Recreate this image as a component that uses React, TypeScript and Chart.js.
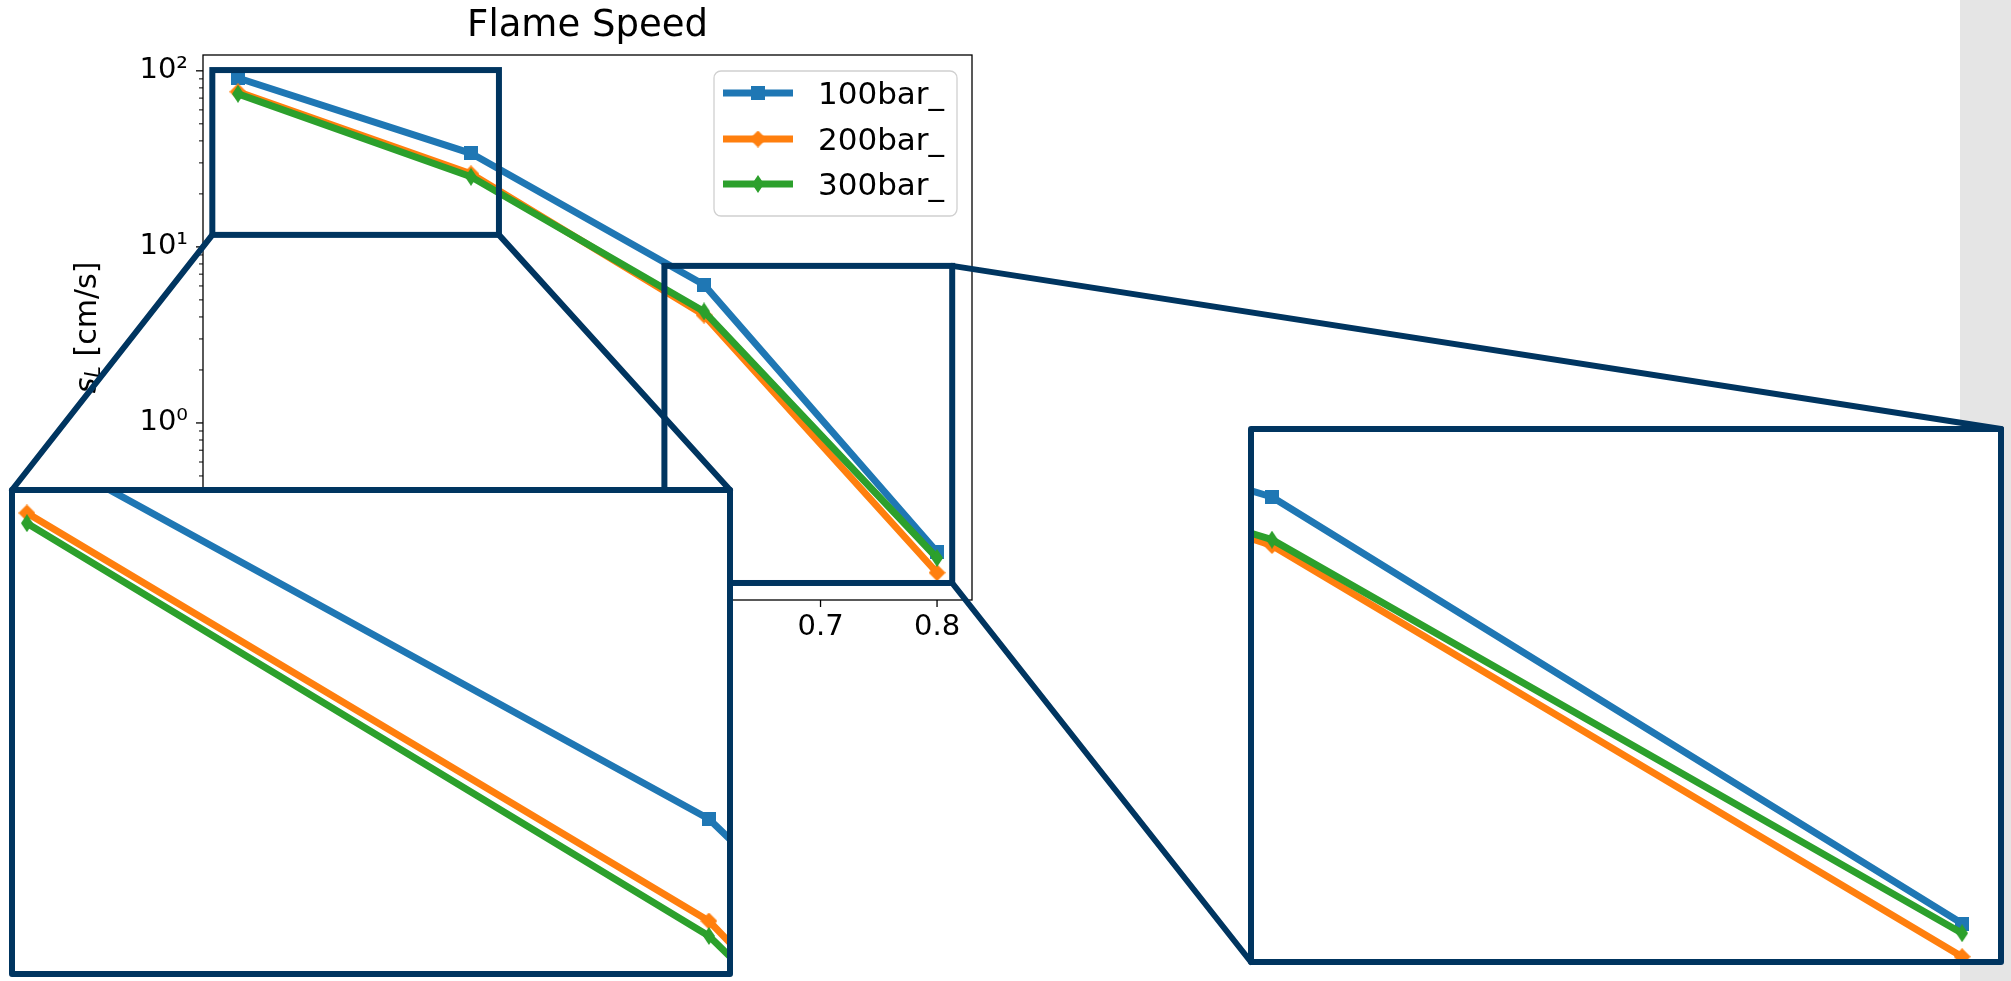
import React, { useEffect, useRef } from 'react';
import { Chart, registerables } from 'chart.js';

Chart.register(...registerables);

const PAGE_W = 2011;
const PAGE_H = 981;
const FONT = '"DejaVu Sans", "Liberation Sans", sans-serif';

// Laminar flame speed s_L [cm/s] against equivalence ratio, three pressures
const equivalenceRatio = [0.2, 0.4, 0.6, 0.8];
const flameSpeed100bar = [91, 34, 6.1, 0.185];
const flameSpeed200bar = [76, 26, 4.1, 0.141];
const flameSpeed300bar = [74, 25, 4.3, 0.171];
const seriesLabels = ['100bar_', '200bar_', '300bar_'];
const seriesColors = ['#1f77b4', '#ff7f0e', '#2ca02c'];
const seriesMarkers = ['square', 'diamond', 'thinDiamond'];

const xTickValues = [0.2, 0.3, 0.4, 0.5, 0.6, 0.7, 0.8];
const yDecadeValues = [0.1, 1, 10, 100];
const yDecadeLabels = ['10⁻¹', '10⁰', '10¹', '10²'];

// axis limits of the main axes and of the two zoomed views
const mainXRange = [0.17, 0.83];
const mainYRange = [0.0987, 123];
const zoomAXRange = [0.1965, 0.4053];
const zoomAYRange = [22.8, 80.1];
const zoomBXRange = [0.5948, 0.8104];
const zoomBYRange = [0.1384, 10.39];

// regions of the main axes that are magnified (data coordinates)
const regionAX = [0.178, 0.424];
const regionAY = [11.7, 101];
const regionBX = [0.566, 0.813];
const regionBY = [0.1233, 7.8];

// frames that hold the magnified views (page pixels)
const frameA = { left: 9, top: 487, width: 724, height: 490 };
const frameB = { left: 1248, top: 426, width: 756, height: 539 };
const FRAME_BORDER = 6;
const NAVY = '#003560';

// main plot area placement
const AREA_LEFT = 203;
const AREA_RIGHT = 972;
const AREA_BOTTOM = 600;
const X_AXIS_H = 60;
const LINE_W = 7;

function makeMarker(kind: string, color: string): HTMLCanvasElement {
  const c = document.createElement('canvas');
  let w = 14;
  let h = 14;
  if (kind === 'diamond') { w = 17; h = 17; }
  if (kind === 'thinDiamond') { w = 12; h = 18; }
  c.width = w;
  c.height = h;
  const g = c.getContext('2d')!;
  g.fillStyle = color;
  g.beginPath();
  if (kind === 'square') {
    g.rect(0, 0, w, h);
  } else {
    g.moveTo(w / 2, 0);
    g.lineTo(w, h / 2);
    g.lineTo(w / 2, h);
    g.lineTo(0, h / 2);
    g.closePath();
  }
  g.fill();
  return c;
}

function buildDatasets(markers: HTMLCanvasElement[]) {
  const series = [flameSpeed100bar, flameSpeed200bar, flameSpeed300bar];
  return series.map((vals, i) => ({
    label: seriesLabels[i],
    data: equivalenceRatio.map((x, j) => ({ x, y: vals[j] })),
    borderColor: seriesColors[i],
    backgroundColor: seriesColors[i],
    borderWidth: LINE_W,
    borderJoinStyle: 'round' as const,
    pointStyle: markers[i],
    pointRadius: 8,
    pointHoverRadius: 8,
    tension: 0,
    order: 3 - i,
  }));
}

function buildLogTicks(min: number, max: number) {
  const ticks: { value: number; major: boolean }[] = [];
  for (let e = -2; e <= 3; e++) {
    for (let m = 1; m <= 9; m++) {
      const v = m * Math.pow(10, e);
      if (v >= min && v <= max) ticks.push({ value: v, major: m === 1 });
    }
  }
  return ticks;
}

function decadeLabel(value: number) {
  const k = yDecadeValues.findIndex((d) => Math.abs(d - value) / d < 1e-6);
  return k >= 0 ? yDecadeLabels[k] : '';
}

const overlayPlugin = {
  id: 'flameOverlay',
  afterDraw(chart: any) {
    const { ctx, chartArea: ca } = chart;
    const xs = chart.scales.x;
    const ys = chart.scales.y;
    ctx.save();

    // tick marks
    ctx.strokeStyle = '#000';
    for (const t of xs.ticks) {
      const px = xs.getPixelForValue(t.value);
      ctx.lineWidth = 1.3;
      ctx.beginPath();
      ctx.moveTo(px, ca.bottom);
      ctx.lineTo(px, ca.bottom + 7);
      ctx.stroke();
    }
    for (const t of ys.ticks) {
      const py = ys.getPixelForValue(t.value);
      const len = t.major ? 7 : 4;
      ctx.lineWidth = t.major ? 1.3 : 1;
      ctx.beginPath();
      ctx.moveTo(ca.left - len, py);
      ctx.lineTo(ca.left, py);
      ctx.stroke();
    }

    // axes frame
    ctx.lineWidth = 1.3;
    ctx.strokeStyle = '#000';
    ctx.strokeRect(ca.left, ca.top, ca.right - ca.left, ca.bottom - ca.top);

    // y axis title: s_L [cm/s]
    ctx.save();
    ctx.translate(88, (ca.top + ca.bottom) / 2);
    ctx.rotate(-Math.PI / 2);
    ctx.fillStyle = '#000';
    ctx.textBaseline = 'middle';
    const fIt = `italic 30px ${FONT}`;
    const fSub = `italic 21px ${FONT}`;
    const fReg = `30px ${FONT}`;
    ctx.font = fIt;
    const wS = ctx.measureText('s').width;
    ctx.font = fSub;
    const wL = ctx.measureText('L').width;
    ctx.font = fReg;
    const rest = ' [cm/s]';
    const wR = ctx.measureText(rest).width;
    let cx = -(wS + wL + wR) / 2;
    ctx.font = fIt;
    ctx.fillText('s', cx, 0);
    cx += wS;
    ctx.font = fSub;
    ctx.fillText('L', cx, 7);
    cx += wL;
    ctx.font = fReg;
    ctx.fillText(rest, cx, 0);
    ctx.restore();

    // legend inside the axes
    const lw = 243;
    const lh = 145;
    const lx = ca.right - 258;
    const ly = ca.top + 16;
    ctx.beginPath();
    ctx.roundRect(lx, ly, lw, lh, 7);
    ctx.fillStyle = 'rgba(255,255,255,0.8)';
    ctx.fill();
    ctx.strokeStyle = '#d0d0d0';
    ctx.lineWidth = 1.3;
    ctx.stroke();
    const rows = [22, 68, 113];
    chart.data.datasets.forEach((ds: any, i: number) => {
      const ry = ly + rows[i];
      ctx.strokeStyle = ds.borderColor;
      ctx.lineWidth = LINE_W;
      ctx.lineCap = 'butt';
      ctx.beginPath();
      ctx.moveTo(lx + 9, ry);
      ctx.lineTo(lx + 79, ry);
      ctx.stroke();
      const img = ds.pointStyle as HTMLCanvasElement;
      ctx.drawImage(img, lx + 44 - img.width / 2, ry - img.height / 2);
      ctx.fillStyle = '#000';
      ctx.font = `31px ${FONT}`;
      ctx.textBaseline = 'alphabetic';
      ctx.fillText(ds.label, lx + 104, ry + 11.3);
    });

    // magnified regions and their connectors
    const ax0 = xs.getPixelForValue(regionAX[0]);
    const ax1 = xs.getPixelForValue(regionAX[1]);
    const ay0 = ys.getPixelForValue(regionAY[0]);
    const ay1 = ys.getPixelForValue(regionAY[1]);
    const bx0 = xs.getPixelForValue(regionBX[0]);
    const bx1 = xs.getPixelForValue(regionBX[1]);
    const by0 = ys.getPixelForValue(regionBY[0]);
    const by1 = ys.getPixelForValue(regionBY[1]);
    const half = FRAME_BORDER / 2;
    ctx.strokeStyle = NAVY;
    ctx.lineWidth = 6;
    ctx.lineJoin = 'miter';
    ctx.strokeRect(ax0, ay1, ax1 - ax0, ay0 - ay1);
    ctx.strokeRect(bx0, by1, bx1 - bx0, by0 - by1);
    const seg = (x1: number, y1: number, x2: number, y2: number) => {
      ctx.beginPath();
      ctx.moveTo(x1, y1);
      ctx.lineTo(x2, y2);
      ctx.stroke();
    };
    ctx.lineCap = 'round';
    seg(ax0, ay0, frameA.left + half, frameA.top + half);
    seg(ax1, ay0, frameA.left + frameA.width - half, frameA.top + half);
    seg(bx1, by1, frameB.left + frameB.width - half, frameB.top + half);
    seg(bx1, by0, frameB.left + half, frameB.top + frameB.height - half);

    ctx.restore();
  },
};

function mainConfig(markers: HTMLCanvasElement[]): any {
  return {
    type: 'line',
    data: { datasets: buildDatasets(markers) },
    options: {
      responsive: false,
      animation: false,
      events: [],
      layout: {
        autoPadding: false,
        padding: { left: 0, top: 0, right: PAGE_W - AREA_RIGHT, bottom: PAGE_H - AREA_BOTTOM - X_AXIS_H },
      },
      plugins: {
        legend: { display: false },
        tooltip: { enabled: false },
        title: {
          display: true,
          text: 'Flame Speed',
          fullSize: false,
          color: '#000',
          font: { family: FONT, size: 37, weight: 'normal', lineHeight: 1.2 },
          padding: { top: 4, bottom: 6.6 },
        },
      },
      scales: {
        x: {
          type: 'linear',
          min: mainXRange[0],
          max: mainXRange[1],
          afterFit: (s: any) => { s.height = X_AXIS_H; },
          afterBuildTicks: (s: any) => { s.ticks = xTickValues.map((v) => ({ value: v })); },
          grid: { display: true, drawOnChartArea: false, drawTicks: true, tickLength: 7, tickColor: 'rgba(0,0,0,0)' },
          border: { display: false },
          ticks: {
            autoSkip: false,
            maxRotation: 0,
            padding: 3,
            color: '#000',
            font: { family: FONT, size: 29 },
            callback: (v: any) => Number(v).toFixed(1),
          },
        },
        y: {
          type: 'logarithmic',
          min: mainYRange[0],
          max: mainYRange[1],
          afterFit: (s: any) => { s.width = AREA_LEFT; },
          afterBuildTicks: (s: any) => { s.ticks = buildLogTicks(mainYRange[0], mainYRange[1]); },
          grid: { display: true, drawOnChartArea: false, drawTicks: true, tickLength: 7, tickColor: 'rgba(0,0,0,0)' },
          border: { display: false },
          ticks: {
            autoSkip: false,
            padding: 8,
            color: '#000',
            font: { family: FONT, size: 29 },
            callback: (v: any) => decadeLabel(Number(v)),
          },
        },
      },
    },
    plugins: [overlayPlugin],
  };
}

function insetConfig(markers: HTMLCanvasElement[], xr: number[], yr: number[]): any {
  return {
    type: 'line',
    data: { datasets: buildDatasets(markers) },
    options: {
      responsive: false,
      animation: false,
      events: [],
      layout: { autoPadding: false, padding: 0 },
      plugins: { legend: { display: false }, title: { display: false }, tooltip: { enabled: false } },
      scales: {
        x: { type: 'linear', min: xr[0], max: xr[1], display: false },
        y: { type: 'logarithmic', min: yr[0], max: yr[1], display: false },
      },
    },
  };
}

function frameStyle(f: { left: number; top: number; width: number; height: number }): React.CSSProperties {
  return {
    position: 'absolute',
    left: f.left,
    top: f.top,
    width: f.width,
    height: f.height,
    boxSizing: 'border-box',
    border: `${FRAME_BORDER}px solid ${NAVY}`,
    borderRadius: 3,
    background: '#fff',
    overflow: 'hidden',
  };
}

export default function App() {
  const mainRef = useRef<HTMLCanvasElement>(null);
  const zoomARef = useRef<HTMLCanvasElement>(null);
  const zoomBRef = useRef<HTMLCanvasElement>(null);

  useEffect(() => {
    const markers = seriesMarkers.map((m, i) => makeMarker(m, seriesColors[i]));
    const charts = [
      new Chart(mainRef.current!, mainConfig(markers)),
      new Chart(zoomARef.current!, insetConfig(markers, zoomAXRange, zoomAYRange)),
      new Chart(zoomBRef.current!, insetConfig(markers, zoomBXRange, zoomBYRange)),
    ];
    return () => charts.forEach((c) => c.destroy());
  }, []);

  const inner = (f: { width: number; height: number }) => ({
    w: f.width - 2 * FRAME_BORDER,
    h: f.height - 2 * FRAME_BORDER,
  });
  const ia = inner(frameA);
  const ib = inner(frameB);

  return (
    <div
      style={{
        position: 'fixed',
        left: 0,
        top: 0,
        width: PAGE_W,
        height: PAGE_H,
        background: '#fff',
        overflow: 'hidden',
      }}
    >
      <div style={{ position: 'absolute', left: 1960, top: 0, width: PAGE_W - 1960, height: PAGE_H, background: '#e5e5e5' }} />
      <canvas
        ref={mainRef}
        width={PAGE_W}
        height={PAGE_H}
        style={{ position: 'absolute', left: 0, top: 0, width: PAGE_W, height: PAGE_H }}
      />
      <div style={frameStyle(frameA)}>
        <canvas ref={zoomARef} width={ia.w} height={ia.h} style={{ display: 'block', width: ia.w, height: ia.h }} />
      </div>
      <div style={frameStyle(frameB)}>
        <canvas ref={zoomBRef} width={ib.w} height={ib.h} style={{ display: 'block', width: ib.w, height: ib.h }} />
      </div>
    </div>
  );
}
